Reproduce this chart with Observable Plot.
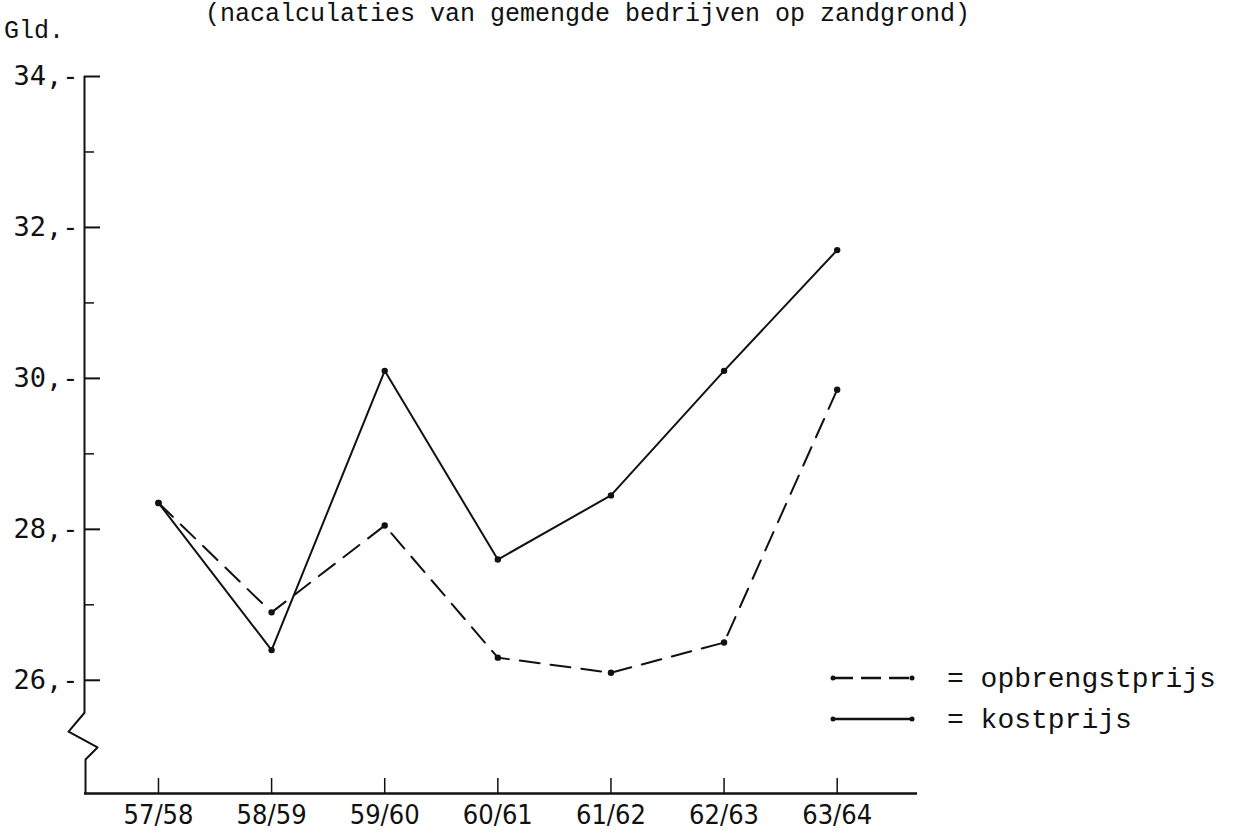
<!DOCTYPE html>
<html>
<head>
<meta charset="utf-8">
<script src="https://cdn.jsdelivr.net/npm/d3@7"></script>
<script src="https://cdn.jsdelivr.net/npm/@observablehq/plot@0.6"></script>
<style>
  html, body { margin: 0; padding: 0; background: #fff; }
  #wrap { position: relative; width: 1236px; height: 836px; overflow: hidden; }
  .mono { font-family: "Liberation Mono", "DejaVu Sans Mono", monospace; color: #111; position: absolute; white-space: pre; line-height: 1.1; }
  #title { left: 205px; top: 1px; font-size: 25px; }
  #unit { left: 4px; top: 18px; font-size: 25px; }
  #legend { position: absolute; left: 826px; top: 660px; }
</style>
</head>
<body>
<div id="wrap">
  <div id="chart"></div>
  <div id="title" class="mono">(nacalculaties van gemengde bedrijven op zandgrond)</div>
  <div id="unit" class="mono">Gld.</div>
  <div id="legend"></div>
</div>
<script>
// ---- data ----
const seasons = ["57/58", "58/59", "59/60", "60/61", "61/62", "62/63", "63/64"];
const kostprijs = [28.35, 26.4, 30.1, 27.6, 28.45, 30.1, 31.7];
const opbrengstprijs = [28.35, 26.9, 28.05, 26.3, 26.1, 26.5, 29.85];
const yMajorTicks = [26, 28, 30, 32, 34];
const yMinorTicks = [27, 29, 31, 33];
const seriesNames = ["opbrengstprijs", "kostprijs"];

// ---- layout (scale extents) ----
const xMin = -0.654, xMax = 6.71;
const yMin = 24.5, yMax = 34;
const breakTop = 25.57;
// axis-break zigzag (x in index units, y in Gld.)
const breakX = [xMin, xMin - 0.141, xMin + 0.115, xMin + 0.009, xMin + 0.009];
const breakYv = [breakTop, 25.32, 25.11, 24.95, yMin];

const rows = [];
seasons.forEach((s, i) => {
  rows.push({i, season: s, series: "kostprijs", value: kostprijs[i]});
  rows.push({i, season: s, series: "opbrengstprijs", value: opbrengstprijs[i]});
});
const kRows = rows.filter(d => d.series === "kostprijs");
const oRows = rows.filter(d => d.series === "opbrengstprijs");
const breakRows = breakX.map((x, j) => ({x, y: breakYv[j]}));

const chart = Plot.plot({
  width: 1236,
  height: 836,
  marginLeft: 84,
  marginRight: 319,
  marginTop: 76,
  marginBottom: 43,
  style: {background: "#fff", color: "#111"},
  x: {domain: [xMin, xMax]},
  y: {domain: [yMin, yMax]},
  marks: [
    // y axis labels
    Plot.axisY({ticks: yMajorTicks, tickFormat: d => d + ",-", tickSize: 0, tickPadding: 6,
      fontSize: 27, fontFamily: "DejaVu Sans Mono", label: null}),
    // y major ticks pointing right
    Plot.axisY({ticks: yMajorTicks, text: null, tickSize: -16, strokeWidth: 2, label: null}),
    // y minor ticks
    Plot.axisY({ticks: yMinorTicks, text: null, tickSize: -10, strokeWidth: 1.5, label: null}),
    // x axis labels
    Plot.axisX({ticks: d3.range(seasons.length), tickFormat: i => seasons[i], tickSize: 0, tickPadding: 11,
      fontSize: 27, fontFamily: "DejaVu Sans Condensed, Liberation Sans Narrow, sans-serif", label: null}),
    Plot.axisX({ticks: d3.range(seasons.length), text: null, tickSize: -15, strokeWidth: 1.5, label: null}),
    // axis lines
    Plot.ruleX([xMin], {y1: breakTop, y2: yMax, strokeWidth: 2}),
    Plot.line(breakRows, {x: "x", y: "y", strokeWidth: 2}),
    Plot.ruleY([yMin], {strokeWidth: 2.5}),
    // series
    Plot.line(oRows, {x: "i", y: "value", stroke: "#111", strokeWidth: 2, strokeDasharray: "20,11"}),
    Plot.line(kRows, {x: "i", y: "value", stroke: "#111", strokeWidth: 2}),
    Plot.dot(rows, {x: "i", y: "value", r: 3.2, fill: "#111"})
  ]
});
document.getElementById("chart").appendChild(chart);

// ---- legend ----
const leg = document.getElementById("legend");
const legSvg = d3.create("svg").attr("width", 410).attr("height", 80);
seriesNames.forEach((name, k) => {
  const g = legSvg.append("g").attr("transform", `translate(0,${18 + k * 41})`);
  g.append("line").attr("x1", 7).attr("x2", 86).attr("y1", 0).attr("y2", 0)
    .attr("stroke", "#111").attr("stroke-width", 2.5)
    .attr("stroke-dasharray", name === "opbrengstprijs" ? "20,8" : null);
  g.append("circle").attr("cx", 7).attr("cy", 0).attr("r", 2.5).attr("fill", "#111");
  g.append("circle").attr("cx", 86).attr("cy", 0).attr("r", 2.5).attr("fill", "#111");
  g.append("text").attr("x", 121).attr("y", 9)
    .attr("font-family", "Liberation Mono, monospace").attr("font-size", 28).attr("fill", "#111")
    .text("= " + name);
});
leg.appendChild(legSvg.node());
</script>
</body>
</html>
